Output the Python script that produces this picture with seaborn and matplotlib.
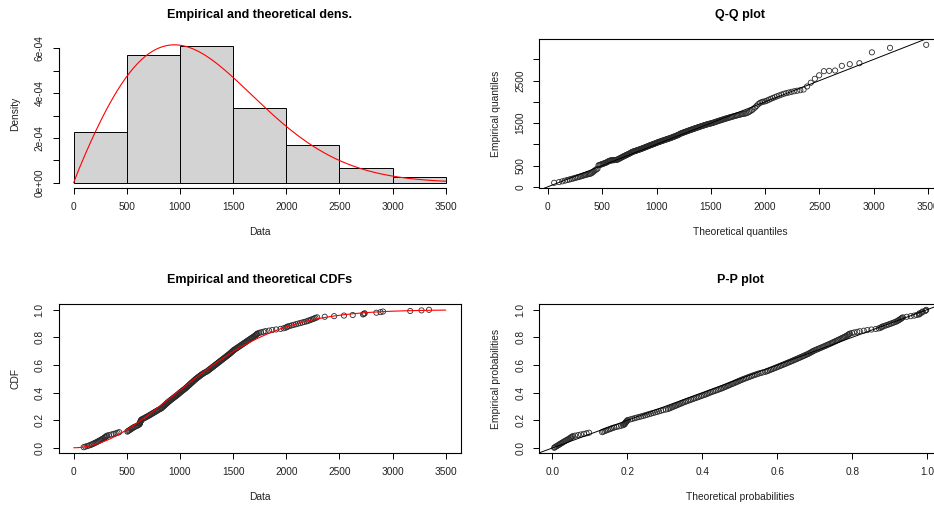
import numpy as np
import matplotlib
matplotlib.use('Agg')
import matplotlib.pyplot as plt
import seaborn as sns

# Echantillon (valeurs triees)
data = [
    94, 110, 128, 145, 160, 172, 185,
    196, 207, 218, 228, 238, 248, 258, 268, 277,
    286, 293, 300, 307, 314,
    332, 355, 375, 395, 412, 428,
    505, 512, 520, 528, 536, 545, 553, 561, 570,
    582, 594, 605, 614,
    620, 622, 624, 626, 628, 630, 632, 635, 638,
    650, 660, 670, 680, 690, 700, 710, 719, 728, 737, 746, 755, 764, 773, 782, 791, 800, 812,
    822, 828, 834, 840, 846, 852, 858, 864, 870, 876, 882, 888, 895, 901, 908, 915, 922, 929,
    936, 943, 950, 957, 964, 971, 978, 985, 991, 997,
    1003, 1010, 1017, 1024, 1031, 1038, 1045, 1052, 1058, 1064, 1070, 1076, 1082, 1088, 1094,
    1100, 1106, 1112, 1118, 1124, 1130, 1136, 1142, 1148, 1155, 1162, 1169, 1176, 1183, 1190,
    1197, 1205, 1213, 1221, 1230, 1240,
    1252, 1259, 1266, 1273, 1280, 1287, 1294, 1301, 1308, 1315, 1322, 1329, 1336, 1343, 1350,
    1357, 1364, 1371, 1378, 1385, 1392, 1399, 1406, 1413, 1420, 1427, 1434, 1441, 1448, 1455,
    1462, 1469, 1475, 1481, 1487, 1493, 1498,
    1505, 1513, 1521, 1529, 1537, 1545, 1553, 1561, 1569, 1577, 1585, 1593, 1601, 1609, 1617,
    1625, 1633, 1641, 1649, 1657, 1665, 1673, 1681, 1689, 1697, 1705, 1712, 1718, 1724, 1730,
    1745, 1762, 1785, 1805, 1838, 1868, 1905, 1946, 1975, 1993,
    2005, 2012, 2030, 2050, 2070, 2090, 2110, 2130, 2150,
    2170, 2190, 2205, 2220, 2235, 2250, 2262, 2275, 2290,
    2362, 2450,
    2543, 2625, 2722, 2730, 2738, 2848, 2887, 2910,
    3166, 3272, 3343,
]
breaks = [0, 500, 1000, 1500, 2000, 2500, 3000, 3500]

# Loi de Weibull ajustee
shape = 1.95
scale = 1370

# Graduations
data_ticks = [0, 500, 1000, 1500, 2000, 2500, 3000, 3500]
dens_ticks = [0, 1e-4, 2e-4, 3e-4, 4e-4, 5e-4, 6e-4]
dens_labels = ['0e+00', '', '2e-04', '', '4e-04', '', '6e-04']
qq_yticks = [0, 500, 1000, 1500, 2000, 2500, 3000]
qq_ylabels = ['0', '500', '', '1500', '', '2500', '']
prob_ticks = [0.0, 0.2, 0.4, 0.6, 0.8, 1.0]
prob_labels = ['0.0', '0.2', '0.4', '0.6', '0.8', '1.0']

sns.set_theme(style='ticks')
plt.rcParams['font.family'] = ['Liberation Sans', 'DejaVu Sans']

x = np.sort(np.array(data, dtype=float))
n = len(x)
pp = (np.arange(1, n + 1) - 0.5) / n


def wcdf(v):
    return 1 - np.exp(-(v / scale) ** shape)


def wpdf(v):
    return (shape / scale) * (v / scale) ** (shape - 1) * np.exp(-(v / scale) ** shape)


def wq(p):
    return scale * (-np.log(1 - p)) ** (1 / shape)


def ext(lo, hi):
    d = (hi - lo) * 0.04
    return lo - d, hi + d


W, H = 934, 508
fig = plt.figure(figsize=(W / 100, H / 100), dpi=100)


def make_ax(l, t, w=401.8, h=149.0):
    return fig.add_axes([l / W, 1 - (t + h) / H, w / W, h / H])


ax1 = make_ax(58.8, 39.3)
ax2 = make_ax(539.3, 39.3)
ax3 = make_ax(58.8, 304.3)
ax4 = make_ax(539.3, 304.3)

txt = '#222222'
pt_edge = '#2a2a2a'


def deco(ax, title, xlab, ylab):
    ax.text(0.5, 1 + 24.5 / 149, title, transform=ax.transAxes, ha='center', va='center',
            fontsize=9, fontweight='bold', color='black')
    ax.text(0.5, -44 / 149, xlab, transform=ax.transAxes, ha='center', va='center',
            fontsize=7.4, color=txt)
    ax.text(-43.5 / 401.8, 0.5, ylab, transform=ax.transAxes, ha='center', va='center',
            rotation=90, fontsize=7.4, color=txt)
    ax.set_xlabel('')
    ax.set_ylabel('')
    ax.tick_params(axis='both', direction='out', length=4, width=0.7, colors='black',
                   labelsize=7.3, labelcolor=txt, pad=6.2)
    for lbl in ax.get_yticklabels():
        lbl.set_rotation(90)
        lbl.set_va('center')
    for sp in ax.spines.values():
        sp.set_linewidth(0.8)
        sp.set_color('black')


# 1. Histogramme + densite theorique
sns.histplot(x=x, bins=breaks, stat='density', color='#D3D3D3', edgecolor='black',
             linewidth=0.7, alpha=1, ax=ax1)
xs = np.linspace(0, 3500, 400)
sns.lineplot(x=xs, y=wpdf(xs), color='red', linewidth=0.8, ax=ax1)
hmax = max(np.histogram(x, bins=breaks, density=True)[0].max(), wpdf(xs).max())
ax1.set_xlim(*ext(0, 3500))
ax1.set_ylim(*ext(0, hmax))
ax1.set_xticks(data_ticks)
ax1.set_yticks(dens_ticks)
ax1.set_yticklabels(dens_labels)
ax1.spines['top'].set_visible(False)
ax1.spines['right'].set_visible(False)
ax1.spines['left'].set_bounds(0, 6e-4)
ax1.spines['bottom'].set_bounds(0, 3500)
deco(ax1, 'Empirical and theoretical dens.', 'Data', 'Density')

# 2. Q-Q plot
tq = wq(pp)
sns.scatterplot(x=tq, y=x, marker='o', s=14, facecolor='none', edgecolor=pt_edge,
                linewidth=0.6, ax=ax2)
ax2.axline((0, 0), slope=1, color='black', linewidth=0.7)
ax2.set_xlim(*ext(tq.min(), tq.max()))
ax2.set_ylim(*ext(x.min(), x.max()))
ax2.set_xticks(data_ticks)
ax2.set_yticks(qq_yticks)
ax2.set_yticklabels(qq_ylabels)
deco(ax2, 'Q-Q plot', 'Theoretical quantiles', 'Empirical quantiles')

# 3. CDF
sns.lineplot(x=xs, y=wcdf(xs), color='red', linewidth=0.8, ax=ax3)
sns.scatterplot(x=x, y=np.arange(1, n + 1) / n, marker='o', s=14, facecolor='none',
                edgecolor=pt_edge, linewidth=0.6, ax=ax3)
ax3.set_xlim(*ext(0, 3500))
ax3.set_ylim(*ext(0, 1))
ax3.set_xticks(data_ticks)
ax3.set_yticks(prob_ticks)
ax3.set_yticklabels(prob_labels)
deco(ax3, 'Empirical and theoretical CDFs', 'Data', 'CDF')

# 4. P-P plot
tp = wcdf(x)
sns.scatterplot(x=tp, y=pp, marker='o', s=14, facecolor='none', edgecolor=pt_edge,
                linewidth=0.6, ax=ax4)
ax4.axline((0, 0), slope=1, color='black', linewidth=0.7)
ax4.set_xlim(*ext(tp.min(), tp.max()))
ax4.set_ylim(*ext(pp.min(), pp.max()))
ax4.set_xticks(prob_ticks)
ax4.set_xticklabels(prob_labels)
ax4.set_yticks(prob_ticks)
ax4.set_yticklabels(prob_labels)
deco(ax4, 'P-P plot', 'Theoretical probabilities', 'Empirical probabilities')

fig.savefig('out.png', dpi=100, facecolor='white')
